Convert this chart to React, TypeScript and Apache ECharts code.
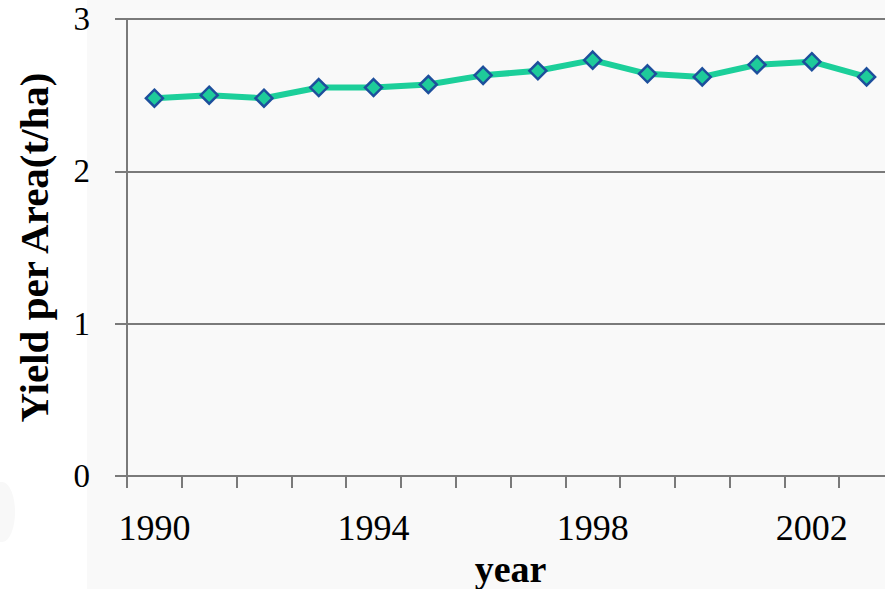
import React, { useEffect, useRef } from "react";
import * as echarts from "echarts";

const years = ["1990", "1991", "1992", "1993", "1994", "1995", "1996", "1997", "1998", "1999", "2000", "2001", "2002", "2003"];
const yieldPerArea = [2.48, 2.5, 2.48, 2.55, 2.55, 2.57, 2.63, 2.66, 2.73, 2.64, 2.62, 2.7, 2.72, 2.62];
const yTicks = [0, 1, 2, 3];

const SERIF = "'Liberation Serif', 'DejaVu Serif', serif";
const AXIS_GRAY = "#7a7a7a";

export default function App() {
  const ref = useRef<HTMLDivElement>(null);

  useEffect(() => {
    if (!ref.current) return;
    const chart = echarts.init(ref.current, undefined, { renderer: "svg" });
    chart.setOption({
      animation: false,
      backgroundColor: "#ffffff",
      graphic: [
        { type: "rect", z: -10, shape: { x: 87, y: 0, width: 820, height: 589 }, style: { fill: "#f9f9f9" } },
        { type: "ellipse", z: -10, shape: { cx: 2, cy: 512, rx: 13, ry: 30 }, style: { fill: "#f8f8f8" } },
      ],
      grid: { left: 127, top: 19, bottom: 113, right: -9, outerBoundsMode: "none", containLabel: false },
      xAxis: {
        type: "category",
        data: years,
        boundaryGap: true,
        name: "year",
        nameLocation: "middle",
        nameMoveOverlap: false,
        nameGap: 93,
        nameTextStyle: {
          fontFamily: SERIF,
          fontWeight: "bold",
          fontSize: 38,
          lineHeight: 32,
          verticalAlign: "middle",
          color: "#000",
        },
        axisLine: { show: true, lineStyle: { color: AXIS_GRAY, width: 2 } },
        axisTick: { show: true, interval: 0, length: 12, lineStyle: { color: AXIS_GRAY, width: 2 } },
        axisLabel: { interval: 3, margin: 34, fontFamily: SERIF, fontSize: 36, color: "#000" },
        splitLine: { show: false },
      },
      yAxis: {
        type: "value",
        min: yTicks[0],
        max: yTicks[yTicks.length - 1],
        interval: 1,
        name: "Yield per Area(t/ha)",
        nameLocation: "middle",
        nameRotate: 90,
        nameGap: 73,
        nameTextStyle: { fontFamily: SERIF, fontWeight: "bold", fontSize: 41, color: "#000" },
        axisLine: { show: true, lineStyle: { color: AXIS_GRAY, width: 2 } },
        axisTick: { show: true, length: 12, lineStyle: { color: AXIS_GRAY, width: 2 } },
        axisLabel: { margin: 37, fontFamily: SERIF, fontSize: 33, color: "#000" },
        splitLine: { show: true, lineStyle: { color: AXIS_GRAY, width: 2 } },
      },
      series: [
        {
          type: "line",
          data: yieldPerArea,
          symbol: "diamond",
          symbolSize: 17,
          lineStyle: { color: "#1ccf9a", width: 6 },
          itemStyle: { color: "#1ecb9a", borderColor: "#1d4f9c", borderWidth: 2.5 },
        },
      ],
    });
    return () => chart.dispose();
  }, []);

  return (
    <div
      ref={ref}
      style={{ position: "fixed", left: 0, top: 0, width: 885, height: 589 }}
    />
  );
}
